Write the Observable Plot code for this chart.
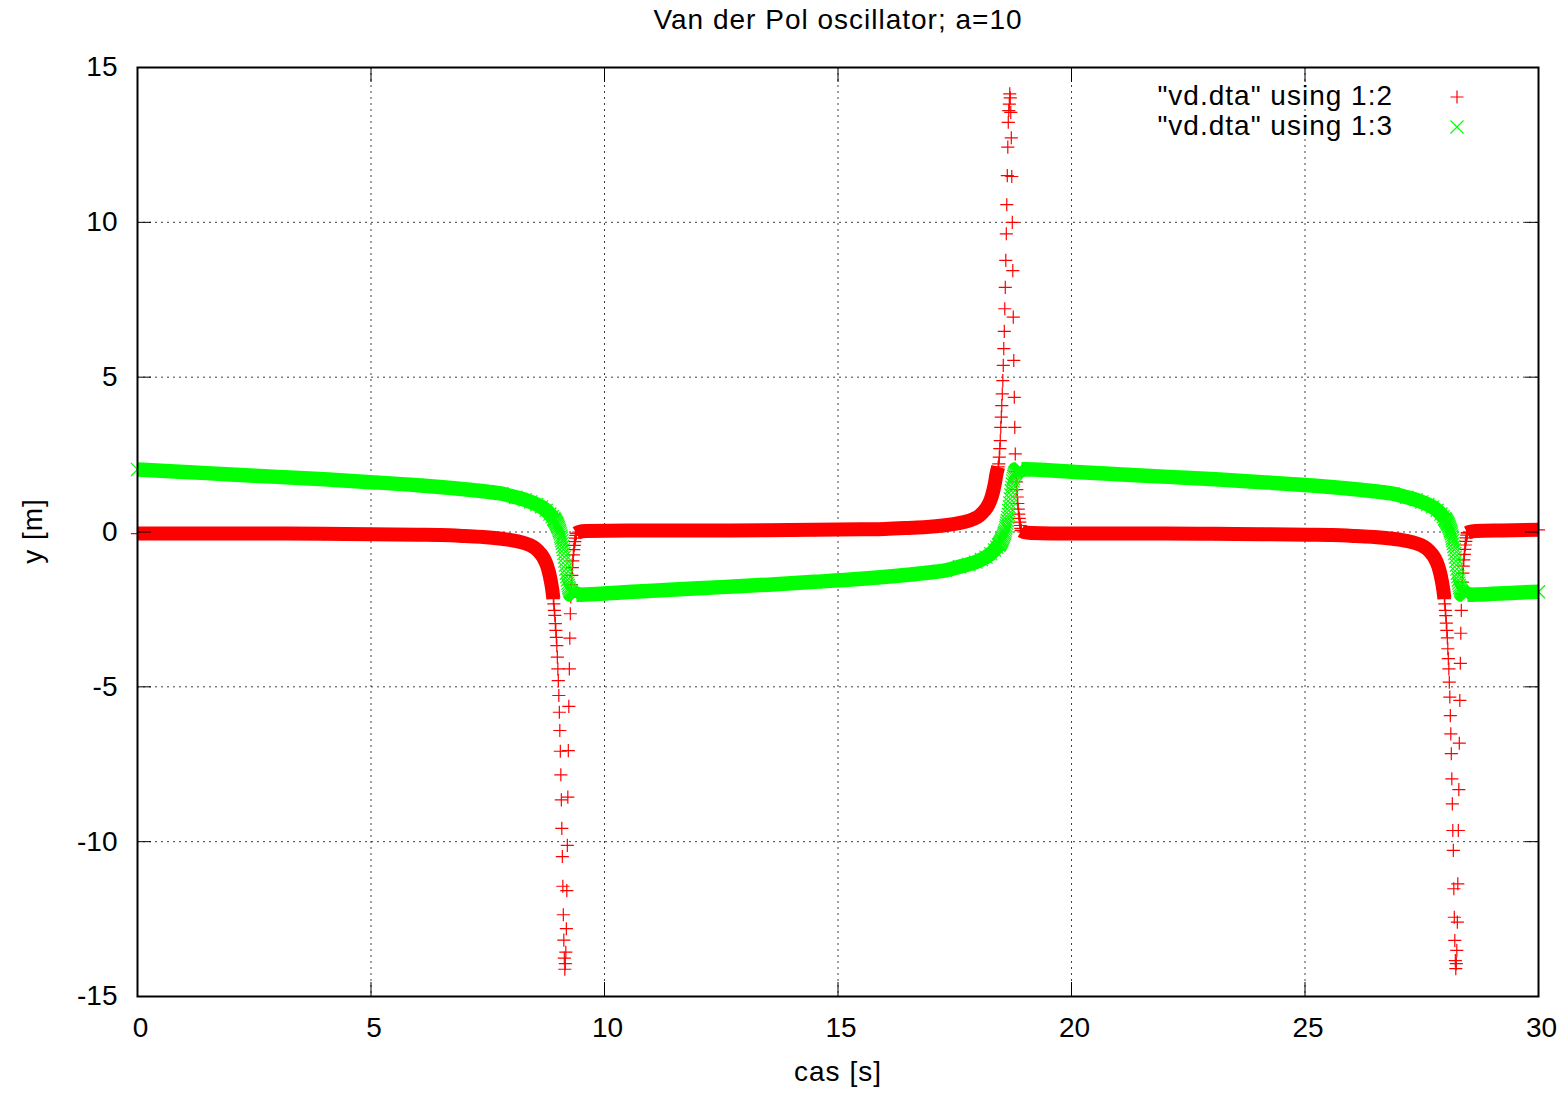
<!DOCTYPE html>
<html><head><meta charset="utf-8">
<script src="https://cdn.jsdelivr.net/npm/d3@7"></script>
<script src="https://cdn.jsdelivr.net/npm/@observablehq/plot@0.6"></script>
<style>
html,body{margin:0;padding:0;background:#fff;}
#wrap{position:relative;width:1566px;height:1093px;font-family:"Liberation Sans",Arial,Helvetica,sans-serif;color:#000;overflow:hidden;}
.lbl{position:absolute;white-space:nowrap;font-size:28px;line-height:28px;letter-spacing:1px;}
</style></head><body><div id="wrap"></div>
<script>
// ---- axis ticks ----
const xTicks = [0, 5, 10, 15, 20, 25, 30];
const yTicks = [-15, -10, -5, 0, 5, 10, 15];

// ---- dense (slow) stretches, read as knots along the marker bands; null separates stretches ----
const bandTime2 = [
  0, 1, 2, 3, 4, 5, 6, 6.5, 7, 7.4, 7.8, 8.0, 8.2, 8.4, 8.52, 8.62, 8.70, 8.76, 8.81, 8.85, 8.88, 8.905, null,
  9.397, 9.45, 9.6, 10.5, 11.5, 12.5, 13.5, 14.5, 15.5, 16.0, 16.5, 16.9, 17.3, 17.5, 17.7, 17.9, 18.03, 18.13, 18.21, 18.27, 18.32, 18.36, 18.39, 18.43, null,
  18.925, 18.98, 19.13, 20, 21, 22, 23.08, 24.08, 25.08, 25.58, 26.08, 26.48, 26.88, 27.08, 27.28, 27.48, 27.60, 27.70, 27.78, 27.84, 27.89, 27.93, 27.96, 27.985, null,
  28.476, 28.52, 28.65, 29.2, 30
];
const bandCol2 = [
  -0.05, -0.05, -0.05, -0.05, -0.06, -0.07, -0.09, -0.10, -0.13, -0.16, -0.22, -0.26, -0.32, -0.42, -0.53, -0.68, -0.85, -1.05, -1.30, -1.58, -1.85, -2.15, null,
  -0.04, 0.00, 0.03, 0.05, 0.05, 0.05, 0.06, 0.07, 0.09, 0.10, 0.13, 0.16, 0.22, 0.26, 0.32, 0.42, 0.53, 0.68, 0.85, 1.05, 1.30, 1.58, 1.85, 2.10, null,
  0.04, 0.00, -0.03, -0.05, -0.05, -0.05, -0.06, -0.07, -0.09, -0.10, -0.13, -0.16, -0.22, -0.26, -0.32, -0.42, -0.53, -0.68, -0.85, -1.05, -1.30, -1.58, -1.85, -2.15, null,
  -0.03, 0.00, 0.03, 0.05, 0.07
];
const bandTime3 = [
  0, 1, 2, 3, 4, 5, 6, 7, 7.5, 7.8, 8.1, 8.3, 8.42, 8.55, 8.65, 8.75, 8.83, 8.88, 8.915, null,
  9.397, 9.6, 10.5, 11.5, 12.5, 13.5, 14.5, 15.5, 16.5, 17.0, 17.3, 17.6, 17.8, 17.95, 18.07, 18.17, 18.27, 18.35, 18.40, 18.443, null,
  18.925, 19.2, 20.08, 21.08, 22.08, 23.08, 24.08, 25.08, 26.08, 26.58, 26.88, 27.18, 27.38, 27.50, 27.63, 27.73, 27.83, 27.91, 27.96, 27.994, null,
  28.476, 28.7, 29.5, 30
];
const bandCol3 = [
  2.02, 1.94, 1.86, 1.78, 1.70, 1.61, 1.51, 1.38, 1.30, 1.24, 1.12, 1.04, 0.97, 0.89, 0.81, 0.70, 0.58, 0.49, 0.42, null,
  -2.03, -2.02, -1.94, -1.86, -1.78, -1.70, -1.61, -1.51, -1.38, -1.30, -1.24, -1.12, -1.04, -0.97, -0.89, -0.81, -0.70, -0.58, -0.49, -0.42, null,
  2.03, 2.02, 1.94, 1.86, 1.78, 1.70, 1.61, 1.51, 1.38, 1.30, 1.24, 1.12, 1.04, 0.97, 0.89, 0.81, 0.70, 0.58, 0.49, 0.42, null,
  -2.03, -2.02, -1.96, -1.93
];

// ---- fast jumps: individual rows (time, column 2, column 3) ----
const jump1Time = [8.915, 8.926, 8.936, 8.947, 8.958, 8.969, 8.979, 8.990, 9.001, 9.011, 9.022, 9.033, 9.043, 9.054, 9.065, 9.076, 9.086, 9.097, 9.108, 9.118, 9.129, 9.140, 9.150, 9.161, 9.172, 9.183, 9.193, 9.204, 9.215, 9.225, 9.236, 9.247, 9.257, 9.268, 9.279, 9.290, 9.300, 9.311, 9.322, 9.332, 9.343, 9.354, 9.364, 9.375, 9.386, 9.397];
const jump1Col2 = [-2.32, -2.53, -2.69, -2.96, -3.18, -3.40, -3.67, -4.04, -4.42, -4.80, -5.28, -5.82, -6.41, -7.08, -7.84, -8.65, -9.57, -10.48, -11.44, -12.36, -13.18, -13.76, -14.12, -13.94, -13.57, -12.81, -11.58, -10.12, -8.56, -7.06, -5.63, -4.42, -3.43, -2.64, -2.10, -1.70, -1.40, -1.15, -0.93, -0.74, -0.57, -0.43, -0.31, -0.20, -0.11, -0.04];
const jump1Col3 = [0.42, 0.40, 0.37, 0.35, 0.32, 0.29, 0.26, 0.23, 0.19, 0.15, 0.10, 0.05, 0.00, -0.06, -0.13, -0.20, -0.28, -0.37, -0.47, -0.57, -0.69, -0.81, -0.94, -1.07, -1.20, -1.33, -1.44, -1.55, -1.65, -1.73, -1.79, -1.84, -1.89, -1.92, -1.94, -1.96, -1.98, -1.99, -2.00, -2.01, -2.02, -2.02, -2.03, -2.03, -2.03, -2.03];

const jump2Time = [18.443, 18.454, 18.464, 18.475, 18.486, 18.497, 18.507, 18.518, 18.529, 18.539, 18.550, 18.561, 18.571, 18.582, 18.593, 18.604, 18.614, 18.625, 18.636, 18.646, 18.657, 18.668, 18.678, 18.689, 18.700, 18.711, 18.721, 18.732, 18.743, 18.753, 18.764, 18.775, 18.785, 18.796, 18.807, 18.818, 18.828, 18.839, 18.850, 18.860, 18.871, 18.882, 18.892, 18.903, 18.914, 18.925];
const jump2Col2 = [2.20, 2.42, 2.69, 2.95, 3.38, 3.71, 4.08, 4.46, 4.89, 5.38, 5.92, 6.48, 7.21, 7.90, 8.77, 9.63, 10.57, 11.51, 12.43, 13.23, 13.61, 13.82, 14.15, 14.02, 13.55, 12.73, 11.48, 10.00, 8.44, 6.94, 5.54, 4.35, 3.38, 2.52, 1.95, 1.62, 1.37, 1.13, 0.92, 0.74, 0.58, 0.44, 0.32, 0.21, 0.12, 0.05];
const jump2Col3 = [-0.42, -0.40, -0.37, -0.35, -0.32, -0.29, -0.26, -0.23, -0.19, -0.15, -0.10, -0.05, 0.00, 0.06, 0.13, 0.20, 0.28, 0.37, 0.47, 0.57, 0.69, 0.81, 0.94, 1.07, 1.20, 1.33, 1.44, 1.55, 1.65, 1.73, 1.79, 1.84, 1.89, 1.92, 1.94, 1.96, 1.98, 1.99, 2.00, 2.01, 2.02, 2.02, 2.03, 2.03, 2.03, 2.03];

const jump3Time = [27.994, 28.005, 28.015, 28.026, 28.037, 28.048, 28.058, 28.069, 28.080, 28.090, 28.101, 28.112, 28.122, 28.133, 28.144, 28.155, 28.165, 28.176, 28.187, 28.197, 28.208, 28.219, 28.229, 28.240, 28.251, 28.262, 28.272, 28.283, 28.294, 28.304, 28.315, 28.326, 28.336, 28.347, 28.358, 28.369, 28.379, 28.390, 28.401, 28.411, 28.422, 28.433, 28.443, 28.454, 28.465, 28.476];
const jump3Col2 = [-2.32, -2.53, -2.70, -2.94, -3.18, -3.42, -3.77, -4.09, -4.42, -4.85, -5.33, -5.93, -6.52, -7.16, -7.97, -8.78, -9.64, -10.28, -11.52, -12.44, -13.19, -13.84, -14.10, -13.94, -13.51, -12.60, -11.36, -9.64, -8.32, -6.82, -5.44, -4.24, -3.27, -2.53, -2.00, -1.62, -1.33, -1.10, -0.90, -0.72, -0.56, -0.42, -0.30, -0.19, -0.10, -0.03];
const jump3Col3 = [0.42, 0.40, 0.37, 0.35, 0.32, 0.29, 0.26, 0.23, 0.19, 0.15, 0.10, 0.05, 0.00, -0.06, -0.13, -0.20, -0.28, -0.37, -0.47, -0.57, -0.69, -0.81, -0.94, -1.07, -1.20, -1.33, -1.44, -1.55, -1.65, -1.73, -1.79, -1.84, -1.89, -1.92, -1.94, -1.96, -1.98, -1.99, -2.00, -2.01, -2.02, -2.02, -2.03, -2.03, -2.03, -2.03];

const titleText = "Van der Pol oscillator; a=10";
const xLabel = "cas [s]";
const yLabel = "y [m]";
const seriesNames = ['"vd.dta" using 1:2', '"vd.dta" using 1:3'];
const RED = "#ff0000", GREEN = "#00ff00";

// ---- build tables ----
const band2 = bandTime2.map((t, i) => ({t, v: bandCol2[i]}));
const band3 = bandTime3.map((t, i) => ({t, v: bandCol3[i]}));
const jumps = [[jump1Time, jump1Col2, jump1Col3], [jump2Time, jump2Col2, jump2Col3], [jump3Time, jump3Col2, jump3Col3]]
  .flatMap(([T, A, B]) => T.map((t, i) => ({t, c2: A[i], c3: B[i]})));
const knots2 = band2.filter(d => d.t != null);
const knots3 = band3.filter(d => d.t != null);

const fontStack = "'Liberation Sans', Arial, Helvetica, sans-serif";
const chart = Plot.plot({
  width: 1566, height: 1093,
  marginLeft: 137, marginRight: 28, marginTop: 67, marginBottom: 97,
  x: {domain: [0, 30]},
  y: {domain: [-15, 15]},
  style: {background: "#fff", fontFamily: fontStack, color: "#000", overflow: "visible"},
  marks: [
    Plot.gridX(xTicks.slice(1, -1), {stroke: "#000", strokeOpacity: 0.75, strokeDasharray: "2,4", strokeWidth: 1}),
    Plot.gridY(yTicks.slice(1, -1), {stroke: "#000", strokeOpacity: 0.75, strokeDasharray: "2,4", strokeWidth: 1}),
    // column 2 (red +)
    Plot.line(band2, {x: "t", y: "v", stroke: RED, strokeWidth: 14, curve: "monotone-x", strokeLinecap: "butt", strokeLinejoin: "round"}),
    Plot.dot(knots2, {x: "t", y: "v", symbol: "plus", r: 4.3, stroke: RED, strokeWidth: 1.2, fill: "none"}),
    Plot.dot(jumps, {x: "t", y: "c2", symbol: "plus", r: 4.3, stroke: RED, strokeWidth: 1.2, fill: "none"}),
    // column 3 (green x)
    Plot.line(band3, {x: "t", y: "v", stroke: GREEN, strokeWidth: 14.5, curve: "monotone-x", strokeLinecap: "butt", strokeLinejoin: "round"}),
    Plot.dot(knots3, {x: "t", y: "v", symbol: "times", r: 6, stroke: GREEN, strokeWidth: 1.2, fill: "none"}),
    Plot.dot(jumps, {x: "t", y: "c3", symbol: "times", r: 6, stroke: GREEN, strokeWidth: 1.2, fill: "none"}),
    Plot.frame({stroke: "#000", strokeWidth: 2}),
    Plot.axisX(xTicks, {anchor: "bottom", tickSize: -14, tickFormat: () => "", label: null}),
    Plot.axisX(xTicks, {anchor: "bottom", tickSize: 0, tickPadding: 21, dx: 3, fontSize: 28, label: null, tickFormat: d => String(d)}),
    Plot.axisX(xTicks, {anchor: "top", tickSize: -14, tickFormat: () => "", label: null}),
    Plot.axisY(yTicks, {anchor: "left", tickSize: -14, tickPadding: 34, fontSize: 28, label: null, tickFormat: d => String(d)}),
    Plot.axisY(yTicks, {anchor: "right", tickSize: -14, tickFormat: () => "", label: null})
  ]
});
const wrap = document.getElementById("wrap");
chart.style.position = "absolute"; chart.style.left = "0"; chart.style.top = "0";
wrap.appendChild(chart);

function addLabel(text, css) {
  const d = document.createElement("div");
  d.className = "lbl";
  d.textContent = text;
  Object.assign(d.style, css);
  wrap.appendChild(d);
  return d;
}
addLabel(titleText, {left: "838px", top: "6px", transform: "translateX(-50%)"});
addLabel(xLabel, {left: "838px", top: "1058px", transform: "translateX(-50%)"});
addLabel(yLabel, {left: "33px", top: "531px", transform: "translate(-50%,-50%) rotate(-90deg)"});

// legend (key) in the upper right of the plot area
seriesNames.forEach((name, i) => {
  const top = 82 + i * 29.5;
  addLabel(name, {right: "173px", top: top + "px", textAlign: "right"});
  const s = document.createElementNS("http://www.w3.org/2000/svg", "svg");
  s.setAttribute("width", 20); s.setAttribute("height", 20);
  Object.assign(s.style, {position: "absolute", left: "1447px", top: (top + 5) + "px", overflow: "visible"});
  const p = document.createElementNS("http://www.w3.org/2000/svg", "path");
  p.setAttribute("d", i === 0 ? "M3.5,10H16.5M10,3.5V16.5" : "M3.5,3.5L16.5,16.5M3.5,16.5L16.5,3.5");
  p.setAttribute("stroke", i === 0 ? RED : GREEN);
  p.setAttribute("stroke-width", 1.2);
  p.setAttribute("fill", "none");
  s.appendChild(p);
  wrap.appendChild(s);
});
</script></body></html>
